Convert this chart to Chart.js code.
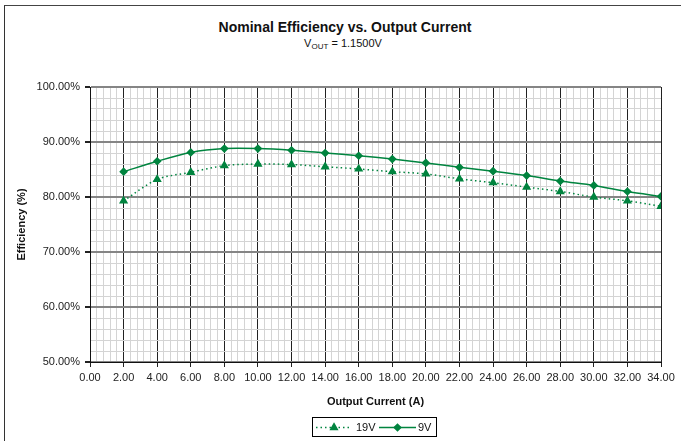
<!DOCTYPE html>
<html>
<head>
<meta charset="utf-8">
<script src="https://cdn.jsdelivr.net/npm/chart.js@4.4.1/dist/chart.umd.min.js"></script>
<style>
  html, body { margin: 0; padding: 0; background: #fff; }
  #wrap { position: relative; width: 681px; height: 441px; overflow: hidden; font-family: 'Liberation Sans', Arial, sans-serif; color: #111; }
  #frame { position: absolute; left: 4px; top: 5px; width: 720px; height: 480px; border-left: 1px solid #333; border-top: 1px solid #444; }
  #title { position: absolute; left: 0; width: 690px; top: 19px; text-align: center; font-weight: bold; font-size: 14px; }
  #subtitle { position: absolute; left: 0; width: 686px; top: 37px; text-align: center; font-size: 11px; }
  #subtitle sub { font-size: 8px; vertical-align: -2px; }
  canvas { position: absolute; left: 0; top: 0; }
</style>
</head>
<body>
<div id="wrap">
  <div id="frame"></div>
  <div id="title">Nominal Efficiency vs. Output Current</div>
  <div id="subtitle">V<sub>OUT</sub> = 1.1500V</div>
  <canvas id="chart" width="681" height="441"></canvas>
</div>
<script>
// output current (A)
var current = [2, 4, 6, 8, 10, 12, 14, 16, 18, 20, 22, 24, 26, 28, 30, 32, 34];
// efficiency in %
var eff19V = [79.3, 83.2, 84.5, 85.7, 86.0, 85.9, 85.5, 85.1, 84.6, 84.2, 83.3, 82.6, 81.8, 81.0, 80.0, 79.3, 78.3];
var eff9V = [84.6, 86.5, 88.1, 88.8, 88.8, 88.5, 88.0, 87.5, 86.9, 86.2, 85.4, 84.7, 83.9, 82.9, 82.1, 81.0, 80.1];
var seriesNames = ['19V', '9V'];

var green = '#00843f';
var font = "'Liberation Sans', Arial, sans-serif";

function pts(ys) {
	return current.map(function (x, i) { return { x: x, y: ys[i] }; });
}

function isMajor(v, step) {
	var r = v / step;
	return Math.abs(r - Math.round(r)) < 1e-6;
}

// legend like the spreadsheet one: line sample with marker in the middle
var lineLegend = {
	id: 'lineLegend',
	afterDraw: function (chart) {
		var ctx = chart.ctx;
		ctx.save();
		ctx.strokeStyle = '#000';
		ctx.lineWidth = 1;
		ctx.strokeRect(312.5, 417.5, 124, 19);
		ctx.font = '11px ' + font;
		ctx.fillStyle = '#111';
		ctx.textBaseline = 'middle';
		var y = 427.5;
		var items = [
			{ x0: 316, x1: 352, dash: [1.5, 3], style: 'triangle', r: 3.8, tx: 356 },
			{ x0: 379, x1: 416, dash: [], style: 'rectRot', r: 3.3, tx: 418 }
		];
		items.forEach(function (it, i) {
			ctx.strokeStyle = green;
			ctx.lineWidth = 1.5;
			ctx.setLineDash(it.dash);
			ctx.beginPath();
			ctx.moveTo(it.x0, y);
			ctx.lineTo(it.x1, y);
			ctx.stroke();
			ctx.setLineDash([]);
			ctx.fillStyle = green;
			Chart.helpers.drawPoint(ctx, { pointStyle: it.style, radius: it.r, borderWidth: 1, rotation: 0 }, (it.x0 + it.x1) / 2, y);
			ctx.fillStyle = '#111';
			ctx.fillText(seriesNames[i], it.tx, y + 0.5);
		});
		ctx.restore();
	}
};

new Chart(document.getElementById('chart'), {
	type: 'line',
	data: {
		datasets: [{
			label: seriesNames[0],
			data: pts(eff19V),
			borderColor: green,
			backgroundColor: green,
			borderWidth: 1.5,
			borderDash: [1.5, 3],
			pointStyle: 'triangle',
			pointRadius: 3.8,
			tension: 0.3
		}, {
			label: seriesNames[1],
			data: pts(eff9V),
			borderColor: green,
			backgroundColor: green,
			borderWidth: 1.5,
			pointStyle: 'rectRot',
			pointRadius: 3.3,
			tension: 0.3
		}]
	},
	options: {
		responsive: false,
		animation: false,
		layout: { padding: { left: 0, right: 20, top: 87, bottom: 30 } },
		plugins: {
			legend: { display: false },
			tooltip: { enabled: false }
		},
		scales: {
			x: {
				type: 'linear',
				min: 0,
				max: 34,
				afterFit: function (s) { s.height = 49; },
				ticks: {
					stepSize: 0.4,
					autoSkip: false,
					maxRotation: 0,
					padding: 4,
					color: '#222',
					font: { family: font, size: 11 },
					callback: function (v) { return isMajor(v, 2) ? v.toFixed(2) : ''; }
				},
				grid: {
					color: function (c) { return isMajor(c.tick.value, 2) ? '#222' : '#d4d4d4'; },
					tickColor: function (c) { return isMajor(c.tick.value, 2) ? '#222' : 'rgba(0,0,0,0)'; },
					tickLength: 5,
					lineWidth: 1
				},
				border: { color: '#111', width: 1 },
				title: {
					display: true,
					text: 'Output Current (A)',
					color: '#111',
					font: { family: font, size: 11, weight: 'bold' },
					padding: { top: 0, bottom: 2 }
				}
			},
			y: {
				min: 50,
				max: 100,
				afterFit: function (s) { s.width = 90; },
				ticks: {
					stepSize: 2,
					autoSkip: false,
					padding: 5,
					color: '#222',
					font: { family: font, size: 11 },
					callback: function (v) { return isMajor(v, 10) ? v.toFixed(2) + '%' : ''; }
				},
				grid: {
					color: function (c) { return isMajor(c.tick.value, 10) ? '#858585' : '#d4d4d4'; },
					tickColor: function (c) { return isMajor(c.tick.value, 10) ? '#222' : 'rgba(0,0,0,0)'; },
					lineWidth: function (c) { return isMajor(c.tick.value, 10) ? 2 : 1; },
					tickLength: 5
				},
				border: { color: '#111', width: 1 },
				title: {
					display: true,
					text: 'Efficiency (%)',
					color: '#111',
					font: { family: font, size: 11, weight: 'bold' },
					padding: { top: 15, bottom: 0 }
				}
			}
		}
	},
	plugins: [lineLegend]
});
</script>
</body>
</html>
